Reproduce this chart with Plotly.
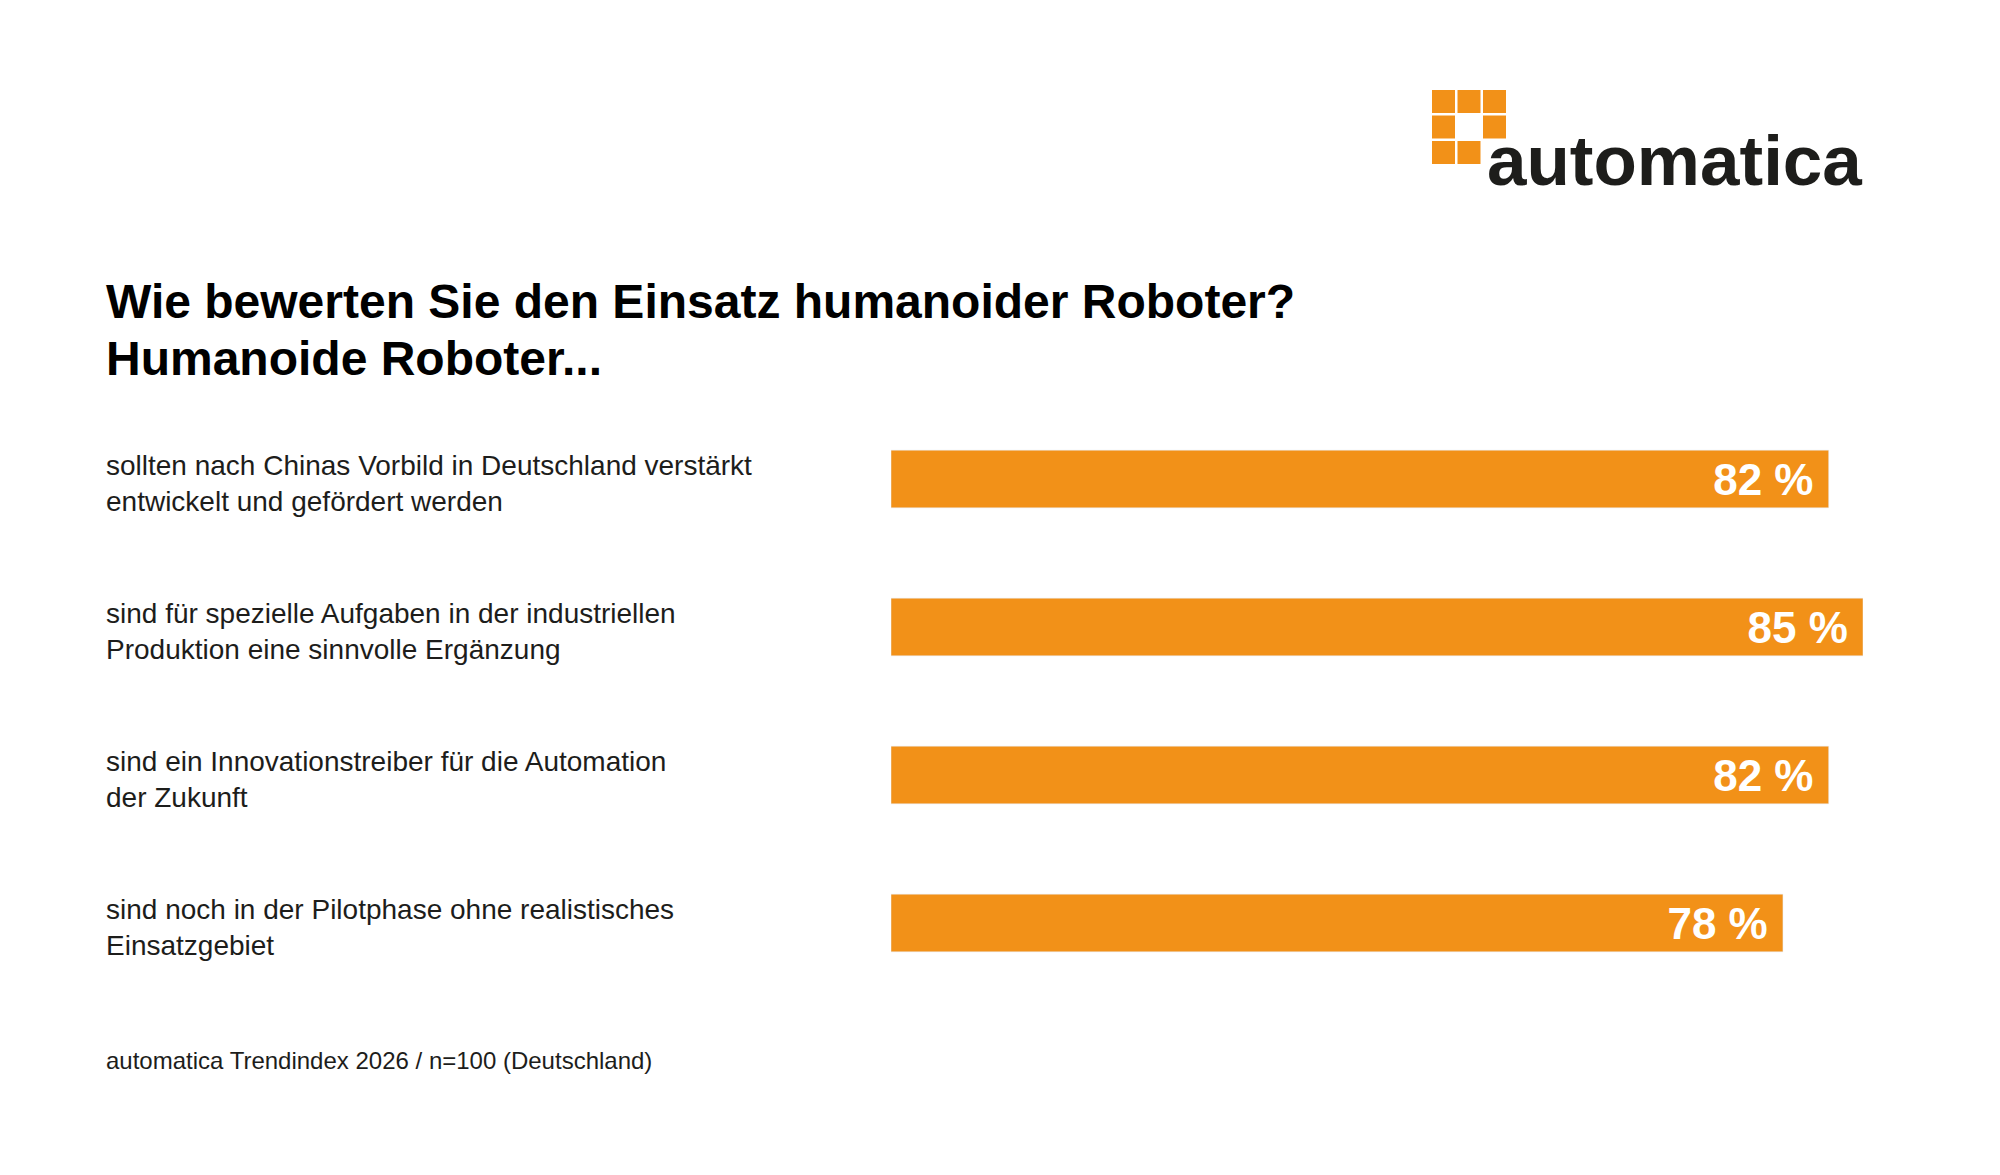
import plotly.graph_objects as go

categories = ["sollten nach Chinas Vorbild in Deutschland verstärkt<br>entwickelt und gefördert werden",
              "sind für spezielle Aufgaben in der industriellen<br>Produktion eine sinnvolle Ergänzung",
              "sind ein Innovationstreiber für die Automation<br>der Zukunft",
              "sind noch in der Pilotphase ohne realistisches<br>Einsatzgebiet"]
values = [82, 85, 82, 78]
title_lines = ["Wie bewerten Sie den Einsatz humanoider Roboter?", "Humanoide Roboter..."]
source = "automatica Trendindex 2026 / n=100 (Deutschland)"

W, H = 2000, 1175
L, R, T, B = 883, 145, 397, 186
PW, PH = W - L - R, H - T - B
ORANGE = "#F29118"
DARK = "#1d1d1b"
FONT = "Liberation Sans, Arial, sans-serif"

def px(x): return (x - L) / PW
def py(y): return (H - B - y) / PH

ypos = list(range(len(categories)))
fig = go.Figure(go.Bar(
    x=values, y=ypos, orientation="h", marker_color=ORANGE, width=0.39,
    text=[f"<b>{v} %</b>&nbsp;" for v in values], textposition="inside",
    insidetextanchor="end", textfont=dict(color="white", size=44, family=FONT),
    hoverinfo="skip"))

anns = []
for i, c in enumerate(categories):
    anns.append(dict(x=px(96), xref="paper", y=i, yref="y", yshift=-4, text=c, xanchor="left",
                     yanchor="middle", align="left", showarrow=False,
                     font=dict(size=28, color=DARK, family=FONT)))
for line, yy in zip(title_lines, [293, 350]):
    anns.append(dict(x=px(96), xref="paper", y=py(yy), yref="paper",
                     text="<b>" + line + "</b>", xanchor="left", yanchor="middle",
                     align="left", showarrow=False, font=dict(size=48, color="black", family=FONT)))
anns.append(dict(x=px(96), xref="paper", y=py(1052), yref="paper", text=source,
                 xanchor="left", yanchor="middle", showarrow=False,
                 font=dict(size=24, color=DARK, family=FONT)))
anns.append(dict(x=px(1477), xref="paper", y=py(194), yref="paper", text="<b>automatica</b>",
                 xanchor="left", yanchor="bottom", showarrow=False,
                 font=dict(size=71, color=DARK, family=FONT)))

shapes = []
cells = [(0,0),(1,0),(2,0),(0,1),(2,1),(0,2),(1,2)]
for cx, cy in cells:
    x0 = 1424 + cx * 25.5; y0 = 82 + cy * 25.5
    shapes.append(dict(type="rect", xref="paper", yref="paper", x0=px(x0), x1=px(x0+23),
                       y0=py(y0+23), y1=py(y0), fillcolor=ORANGE, line_width=0))

fig.update_layout(
    width=W, height=H, margin=dict(l=L, r=R, t=T, b=B),
    paper_bgcolor="white", plot_bgcolor="white", showlegend=False,
    xaxis=dict(range=[0, 85], visible=False, fixedrange=True),
    yaxis=dict(range=[3.5, -0.5], visible=False, fixedrange=True),
    annotations=anns, shapes=shapes, font=dict(family=FONT))
fig.update_traces(cliponaxis=False)
fig.write_html("out.html")
